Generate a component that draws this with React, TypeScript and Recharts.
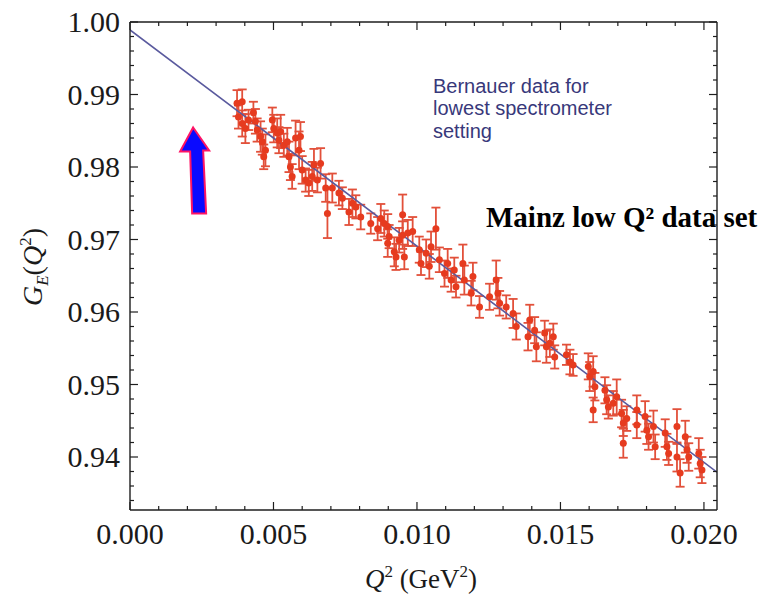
import React from "react";
import { ComposedChart, Scatter, Line, XAxis, YAxis, ErrorBar, ReferenceDot } from "recharts";

// Q^2 (GeV^2) of each measured point
const q2 = [
  0.00373, 0.00378, 0.00391, 0.00391, 0.00402, 0.00413, 0.0043, 0.00437, 0.00443, 0.00455,
  0.00461, 0.00466, 0.00472, 0.00496, 0.00501, 0.00513, 0.00519, 0.00525, 0.00536, 0.00548,
  0.00554, 0.00559, 0.00565, 0.00577, 0.00589, 0.00594, 0.006, 0.00612, 0.00623, 0.00635,
  0.00641, 0.00653, 0.00664, 0.00682, 0.00688, 0.00705, 0.00728, 0.0074, 0.00763, 0.00775,
  0.00787, 0.00804, 0.00839, 0.00863, 0.00874, 0.00886, 0.00898, 0.00898, 0.00903, 0.00921,
  0.00927, 0.00938, 0.0095, 0.0095, 0.00956, 0.00968, 0.00985, 0.01008, 0.01014, 0.01032,
  0.01043, 0.01049, 0.01066, 0.01078, 0.01096, 0.01107, 0.01119, 0.0113, 0.01136, 0.0116,
  0.01165, 0.01189, 0.01195, 0.01218, 0.01253, 0.01276, 0.01282, 0.01288, 0.01311, 0.01335,
  0.01346, 0.01387, 0.01393, 0.0141, 0.01416, 0.01445, 0.01451, 0.01463, 0.01475, 0.0148,
  0.01521, 0.01533, 0.01544, 0.01597, 0.01602, 0.01614, 0.01614, 0.0162, 0.01655, 0.01661,
  0.01667, 0.01684, 0.01696, 0.01713, 0.01719, 0.01719, 0.01731, 0.01766, 0.01766, 0.01795,
  0.01801, 0.01807, 0.01824, 0.0183, 0.01865, 0.01871, 0.01877, 0.01906, 0.01906, 0.01917,
  0.01935, 0.01941, 0.01947, 0.01982, 0.01987, 0.01993,
];

// G_E(Q^2) values
const ge = [
  0.9888, 0.9869, 0.989, 0.986, 0.9853, 0.9865, 0.9875, 0.9863, 0.9851, 0.9842,
  0.9835, 0.9814, 0.9823, 0.9865, 0.9853, 0.9847, 0.9837, 0.9849, 0.983, 0.9835,
  0.9814, 0.98, 0.9787, 0.984, 0.9823, 0.9842, 0.9796, 0.9782, 0.9778, 0.9787,
  0.9803, 0.9782, 0.9805, 0.9771, 0.9736, 0.9771, 0.9764, 0.9757, 0.9738, 0.975,
  0.9745, 0.9731, 0.9722, 0.9715, 0.9729, 0.9722, 0.9718, 0.9695, 0.9704, 0.9683,
  0.9676, 0.9699, 0.9734, 0.9706, 0.9676, 0.9709, 0.9711, 0.9686, 0.9667, 0.9681,
  0.9663, 0.969, 0.9715, 0.9672, 0.9653, 0.9667, 0.9644, 0.9658, 0.9635, 0.9667,
  0.9644, 0.9626, 0.9649, 0.9607, 0.9621, 0.9644, 0.9626, 0.9612, 0.9607, 0.9598,
  0.958, 0.9566, 0.9589, 0.9575, 0.9552, 0.9571, 0.9552, 0.9557, 0.9566, 0.9538,
  0.9541, 0.9531, 0.9527, 0.9525, 0.9511, 0.9518, 0.9465, 0.9497, 0.9492, 0.9479,
  0.9469, 0.9474, 0.9483, 0.946, 0.9447, 0.9419, 0.9453, 0.9465, 0.9444, 0.9456,
  0.9437, 0.9428, 0.9442, 0.9414, 0.9433, 0.9414, 0.9405, 0.9442, 0.94, 0.9378,
  0.9428, 0.941, 0.94, 0.9405, 0.9391, 0.9382,
];

// symmetric error of each point
const err = [
  0.0018, 0.0016, 0.0017, 0.0018, 0.002, 0.0014, 0.0015, 0.0017, 0.0016, 0.0021,
  0.0018, 0.0017, 0.0022, 0.0017, 0.0019, 0.002, 0.0018, 0.0023, 0.0016, 0.0019,
  0.0021, 0.0018, 0.0017, 0.0024, 0.0026, 0.002, 0.0019, 0.0016, 0.0018, 0.002,
  0.0022, 0.0017, 0.0021, 0.0019, 0.0034, 0.002, 0.0017, 0.0015, 0.0018, 0.0019,
  0.0016, 0.0017, 0.0014, 0.0016, 0.002, 0.0018, 0.0017, 0.0019, 0.0016, 0.002,
  0.0018, 0.0017, 0.0028, 0.0019, 0.0017, 0.0018, 0.002, 0.0018, 0.0016, 0.0019,
  0.0017, 0.0021, 0.0029, 0.0017, 0.0018, 0.002, 0.0016, 0.0017, 0.0015, 0.0026,
  0.002, 0.0017, 0.0019, 0.0015, 0.0018, 0.0027, 0.0021, 0.0017, 0.0016, 0.002,
  0.0018, 0.0019, 0.0021, 0.0018, 0.002, 0.0017, 0.0022, 0.0019, 0.0018, 0.0016,
  0.0014, 0.0017, 0.0015, 0.0018, 0.002, 0.0021, 0.0017, 0.0019, 0.0018, 0.002,
  0.0016, 0.0017, 0.0024, 0.0019, 0.0018, 0.002, 0.0017, 0.002, 0.0018, 0.0021,
  0.0019, 0.0018, 0.0022, 0.0017, 0.0019, 0.0018, 0.0016, 0.0024, 0.002, 0.0019,
  0.0022, 0.0018, 0.0019, 0.0021, 0.0019, 0.0018,
];

// fit curve
const fitQ2 = [0, 0.005, 0.01, 0.015, 0.020455];
const fitGe = [0.9989, 0.984, 0.9691, 0.9542, 0.9379];

const xTicks = [
  0, 0.001, 0.002, 0.003, 0.004, 0.005, 0.006, 0.007, 0.008, 0.009, 0.01,
  0.011, 0.012, 0.013, 0.014, 0.015, 0.016, 0.017, 0.018, 0.019, 0.02,
];
const yTicks = [
  0.934, 0.936, 0.938, 0.94, 0.942, 0.944, 0.946, 0.948, 0.95, 0.952, 0.954, 0.956,
  0.958, 0.96, 0.962, 0.964, 0.966, 0.968, 0.97, 0.972, 0.974, 0.976, 0.978, 0.98,
  0.982, 0.984, 0.986, 0.988, 0.99, 0.992, 0.994, 0.996, 0.998, 1.0,
];

const points = q2.map((q, i) => ({ q, g: ge[i], e: err[i] }));
const fit = fitQ2.map((q, i) => ({ q, g: fitGe[i] }));

const AXIS = "#1e1e1e";
const SERIF = "'Liberation Serif', 'Times New Roman', serif";

const isMajorX = (v: number) => Math.abs(v / 0.005 - Math.round(v / 0.005)) < 1e-6;
const isMajorY = (v: number) => Math.abs(v / 0.01 - Math.round(v / 0.01)) < 1e-6;

const BottomTick = ({ x, y, payload }: any) => {
  const major = isMajorX(payload.value);
  return (
    <g>
      <line x1={x} x2={x} y1={y} y2={y - (major ? 8 : 4)} stroke={AXIS} strokeWidth={1.2} />
      {major && (
        <text x={x} y={y + 34} textAnchor="middle" fontSize={30} fontFamily={SERIF} fill="#1a1a1a">
          {payload.value.toFixed(3)}
        </text>
      )}
    </g>
  );
};

const TopTick = ({ x, y, payload }: any) => {
  const major = isMajorX(payload.value);
  return <line x1={x} x2={x} y1={y} y2={y + (major ? 8 : 4)} stroke={AXIS} strokeWidth={1.2} />;
};

const LeftTick = ({ x, y, payload }: any) => {
  const major = isMajorY(payload.value);
  return (
    <g>
      <line x1={x} x2={x + (major ? 8 : 4)} y1={y} y2={y} stroke={AXIS} strokeWidth={1.2} />
      {major && (
        <text x={x - 10} y={y} dy="0.34em" textAnchor="end" fontSize={30} fontFamily={SERIF} fill="#1a1a1a">
          {payload.value.toFixed(2)}
        </text>
      )}
    </g>
  );
};

const RightTick = ({ x, y, payload }: any) => {
  const major = isMajorY(payload.value);
  return <line x1={x} x2={x - (major ? 8 : 4)} y1={y} y2={y} stroke={AXIS} strokeWidth={1.2} />;
};

const Dot = ({ cx, cy }: any) => <circle cx={cx} cy={cy} r={3.5} fill="#e63b1f" />;

// blue arrow drawn relative to its tip
const Arrow = ({ cx, cy }: any) => (
  <polygon
    points={[
      [cx, cy],
      [cx + 16, cy + 23],
      [cx + 10, cy + 23],
      [cx + 13, cy + 86],
      [cx - 1, cy + 86],
      [cx - 3, cy + 24],
      [cx - 13, cy + 24],
    ]
      .map((p) => p.join(","))
      .join(" ")}
    fill="#0a0aff"
    stroke="#ff1464"
    strokeWidth={2}
    strokeLinejoin="miter"
  />
);

export default function App() {
  return (
    <div style={{ position: "absolute", left: 0, top: 0, width: 779, height: 597, background: "#fff" }}>
      <ComposedChart width={779} height={597} margin={{ top: 0, right: 0, bottom: 0, left: 0 }}>
        <XAxis
          type="number"
          dataKey="q"
          domain={[0, 0.020455]}
          ticks={xTicks}
          interval={0}
          tick={<BottomTick />}
          tickSize={0}
          tickMargin={0}
          tickLine={false}
          axisLine={{ stroke: AXIS, strokeWidth: 1.4 }}
          height={87}
          allowDataOverflow
        />
        <XAxis
          xAxisId="top"
          orientation="top"
          type="number"
          dataKey="q"
          domain={[0, 0.020455]}
          ticks={xTicks}
          interval={0}
          tick={<TopTick />}
          tickSize={0}
          tickMargin={0}
          tickLine={false}
          axisLine={{ stroke: AXIS, strokeWidth: 1.4 }}
          height={22}
          allowDataOverflow
        />
        <YAxis
          type="number"
          domain={[0.93269, 1.0]}
          ticks={yTicks}
          interval={0}
          tick={<LeftTick />}
          tickSize={0}
          tickMargin={0}
          tickLine={false}
          axisLine={{ stroke: AXIS, strokeWidth: 1.4 }}
          width={130}
          allowDataOverflow
        />
        <YAxis
          yAxisId="right"
          orientation="right"
          type="number"
          domain={[0.93269, 1.0]}
          ticks={yTicks}
          interval={0}
          tick={<RightTick />}
          tickSize={0}
          tickMargin={0}
          tickLine={false}
          axisLine={{ stroke: AXIS, strokeWidth: 1.4 }}
          width={62}
          allowDataOverflow
        />
        <Scatter data={points} dataKey="g" shape={<Dot />} isAnimationActive={false}>
          <ErrorBar dataKey="e" direction="y" width={4.5} stroke="#e2503a" strokeWidth={1.8} />
        </Scatter>
        <Line
          data={fit}
          dataKey="g"
          type="linear"
          stroke="#5a5a9e"
          strokeWidth={1.6}
          dot={false}
          activeDot={false}
          isAnimationActive={false}
        />
        <ReferenceDot x={0.0022} y={0.98545} shape={<Arrow />} />
      </ComposedChart>
      <svg
        width={779}
        height={597}
        style={{ position: "absolute", left: 0, top: 0, pointerEvents: "none" }}
      >
        <text x={421} y={588} textAnchor="middle" fontSize={27} fontFamily={SERIF} fill="#1a1a1a">
          <tspan fontStyle="italic">Q</tspan>
          <tspan dy={-11} fontSize={17}>2</tspan>
          <tspan dy={11}> (GeV</tspan>
          <tspan dy={-11} fontSize={17}>2</tspan>
          <tspan dy={11}>)</tspan>
        </text>
        <text transform="translate(42,267) rotate(-90)" textAnchor="middle" fontSize={28} fontFamily={SERIF} fill="#1a1a1a">
          <tspan fontStyle="italic">G</tspan>
          <tspan dy={6} fontSize={17} fontStyle="italic">E</tspan>
          <tspan dy={-6}>(</tspan>
          <tspan fontStyle="italic">Q</tspan>
          <tspan dy={-11} fontSize={17}>2</tspan>
          <tspan dy={11}>)</tspan>
        </text>
        <g fontFamily="'Liberation Sans', Arial, sans-serif" fontSize={20} fill="#38387a">
          <text x={433} y={93}>Bernauer data for</text>
          <text x={433} y={115}>lowest spectrometer</text>
          <text x={433} y={138}>setting</text>
        </g>
        <text x={486} y={227} fontFamily={SERIF} fontWeight="bold" fontSize={29} fill="#000">
          Mainz low Q² data set
        </text>
      </svg>
    </div>
  );
}
